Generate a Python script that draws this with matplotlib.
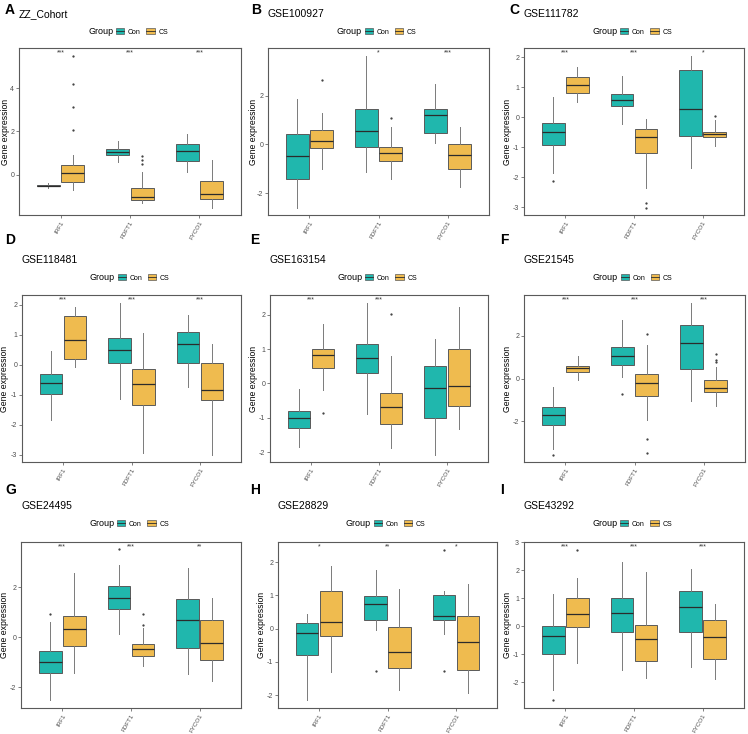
import matplotlib
matplotlib.use("Agg")
import matplotlib.pyplot as plt
from matplotlib.patches import Patch
from matplotlib.lines import Line2D
from matplotlib.legend_handler import HandlerTuple

plt.rcParams['font.family'] = ['Liberation Sans', 'DejaVu Sans']

genes = ["IRF1", "FDFT1", "FYCO1"]
groups = ["Con", "CS"]
con_color = "#20B7AD"
cs_color = "#EFBB4F"

# five number summaries per gene: (whisker low, q1, median, q3, whisker high)
zz_con = [(-0.62, -0.53, -0.51, -0.48, -0.38), (0.58, 0.92, 1.05, 1.18, 1.54), (0.12, 0.62, 1.08, 1.42, 1.88)]
zz_cs = [(-0.72, -0.31, 0.08, 0.45, 0.92), (-1.31, -1.15, -1.0, -0.62, 0.12), (-1.54, -1.12, -0.88, -0.28, 0.69)]
zz_out_con = [[], [], []]
zz_out_cs = [[5.46, 4.2, 3.15, 2.05], [0.88, 0.7, 0.52], []]
zz_sig = ["***", "***", "***"]

g100927_con = [(-2.61, -1.42, -0.48, 0.44, 1.86), (-1.14, -0.11, 0.55, 1.44, 3.64), (0.07, 0.45, 1.22, 1.44, 2.46)]
g100927_cs = [(-0.99, -0.14, 0.14, 0.59, 1.28), (-1.42, -0.69, -0.34, -0.1, 0.73), (-1.76, -1.0, -0.44, 0.03, 0.71)]
g100927_out_con = [[], [], []]
g100927_out_cs = [[2.64], [1.1], []]
g100927_sig = ["", "*", "***"]

g111782_con = [(-1.87, -0.94, -0.51, -0.2, 0.67), (-0.23, 0.36, 0.57, 0.78, 1.37), (-1.68, -0.63, 0.27, 1.57, 2.02)]
g111782_cs = [(0.5, 0.8, 1.06, 1.34, 1.67), (-2.37, -1.21, -0.66, -0.4, -0.06), (-0.96, -0.67, -0.56, -0.48, -0.1)]
g111782_out_con = [[-2.12], [], []]
g111782_out_cs = [[], [-2.87, -3.03], [0.03]]
g111782_sig = ["***", "***", "*"]

g118481_con = [(-1.83, -0.98, -0.61, -0.32, 0.46), (-1.13, 0.06, 0.48, 0.88, 2.06), (-0.74, 0.06, 0.7, 1.1, 1.65)]
g118481_cs = [(-0.08, 0.18, 0.81, 1.63, 1.94), (-2.94, -1.33, -0.66, -0.13, 1.06), (-3.0, -1.19, -0.86, 0.07, 0.7)]
g118481_out_con = [[], [], []]
g118481_out_cs = [[], [], []]
g118481_sig = ["***", "***", "***"]

g163154_con = [(-1.84, -1.28, -1.0, -0.79, -0.15), (-0.9, 0.31, 0.73, 1.15, 2.33), (-2.07, -1.0, -0.13, 0.5, 1.28)]
g163154_cs = [(-0.19, 0.44, 0.84, 1.01, 1.73), (-1.86, -1.17, -0.68, -0.28, 0.8), (-1.31, -0.66, -0.06, 1.01, 2.23)]
g163154_out_con = [[], [], []]
g163154_out_cs = [[-0.87], [2.01], []]
g163154_sig = ["***", "***", ""]

g21545_con = [(-3.27, -2.18, -1.68, -1.34, -0.39), (0.08, 0.62, 1.07, 1.49, 2.72), (-1.04, 0.44, 1.67, 2.47, 3.5)]
g21545_cs = [(-0.05, 0.31, 0.47, 0.59, 1.04), (-1.95, -0.81, -0.23, 0.19, 1.56), (-1.28, -0.62, -0.42, -0.09, 0.55)]
g21545_out_con = [[-3.55], [-0.73], []]
g21545_out_cs = [[], [2.07, -2.83, -3.46], [1.14, 0.86, 0.75]]
g21545_sig = ["***", "***", "***"]

g24495_con = [(-2.52, -1.44, -0.99, -0.56, 0.62), (0.15, 1.11, 1.55, 2.03, 2.89), (-1.46, -0.44, 0.68, 1.51, 2.75)]
g24495_cs = [(-1.44, -0.33, 0.32, 0.83, 2.58), (-1.14, -0.74, -0.48, -0.26, 0.36), (-1.73, -0.89, -0.24, 0.69, 1.58)]
g24495_out_con = [[0.93], [3.51], []]
g24495_out_cs = [[], [0.93, 0.49], []]
g24495_sig = ["***", "***", "**"]

g28829_con = [(-2.16, -0.8, -0.14, 0.18, 0.43), (-0.04, 0.26, 0.74, 0.98, 1.78), (-0.15, 0.26, 0.37, 1.0, 1.12)]
g28829_cs = [(-1.31, -0.21, 0.21, 1.12, 1.88), (-1.86, -1.2, -0.7, 0.06, 1.2), (-1.94, -1.25, -0.39, 0.38, 1.33)]
g28829_out_con = [[], [-1.27], [2.38, -1.27]]
g28829_out_cs = [[], [], []]
g28829_sig = ["*", "**", "*"]

g43292_con = [(-2.26, -0.99, -0.36, 0.0, 1.16), (-1.55, -0.19, 0.49, 1.03, 2.29), (-1.46, -0.21, 0.7, 1.27, 2.06)]
g43292_cs = [(-1.31, -0.02, 0.45, 1.0, 1.71), (-1.85, -1.22, -0.45, 0.04, 1.94), (-1.88, -1.18, -0.38, 0.24, 0.79)]
g43292_out_con = [[-2.64], [], []]
g43292_out_cs = [[2.74], [], []]
g43292_sig = ["***", "***", "***"]

panels = [
    ("A", "ZZ_Cohort", zz_con, zz_cs, zz_out_con, zz_out_cs, zz_sig, (-1.85, 5.85), [0, 2, 4]),
    ("B", "GSE100927", g100927_con, g100927_cs, g100927_out_con, g100927_out_cs, g100927_sig, (-2.89, 3.95), [-2, 0, 2]),
    ("C", "GSE111782", g111782_con, g111782_cs, g111782_out_con, g111782_out_cs, g111782_sig, (-3.26, 2.3), [-3, -2, -1, 0, 1, 2]),
    ("D", "GSE118481", g118481_con, g118481_cs, g118481_out_con, g118481_out_cs, g118481_sig, (-3.25, 2.33), [-3, -2, -1, 0, 1, 2]),
    ("E", "GSE163154", g163154_con, g163154_cs, g163154_out_con, g163154_out_cs, g163154_sig, (-2.28, 2.57), [-2, -1, 0, 1, 2]),
    ("F", "GSE21545", g21545_con, g21545_cs, g21545_out_con, g21545_out_cs, g21545_sig, (-3.89, 3.89), [-2, 0, 2]),
    ("G", "GSE24495", g24495_con, g24495_cs, g24495_out_con, g24495_out_cs, g24495_sig, (-2.82, 3.8), [-2, 0, 2]),
    ("H", "GSE28829", g28829_con, g28829_cs, g28829_out_con, g28829_out_cs, g28829_sig, (-2.39, 2.61), [-2, -1, 0, 1, 2]),
    ("I", "GSE43292", g43292_con, g43292_cs, g43292_out_con, g43292_out_cs, g43292_sig, (-2.91, 3.01), [-2, -1, 0, 1, 2, 3]),
]

# layout in pixels: axes (left, top, right, bottom), title y, legend y, letter (x, y), ylabel x
W, H = 748, 734
axes_px = [(19, 48, 241, 215), (268, 48, 489, 215), (524, 48, 744, 215),
           (22, 295, 241, 462), (270, 295, 488, 462), (524, 295, 745, 462),
           (21, 542, 241, 708), (278, 542, 497, 708), (524, 542, 744, 708)]
title_y = [14, 260, 506]
legend_y = [32, 278, 524]
letter_pos = [(5, 10), (251, 10), (509, 10), (5, 240), (250, 240), (500, 240),
              (5, 490), (250, 490), (500, 490)]
ylabel_x = [5, 253, 508, 5, 253, 508, 5, 261, 508]

fig = plt.figure(figsize=(W / 100, H / 100), dpi=100)


def fx(p):
    return p / W


def fy(p):
    return 1 - p / H


def make_stats(five, out):
    lo, q1, med, q3, hi = five
    return dict(whislo=lo, q1=q1, med=med, q3=q3, whishi=hi, fliers=out)


for i, (letter, title, con, cs, out_con, out_cs, sig, ylim, yticks) in enumerate(panels):
    l, t, r, b = axes_px[i]
    ax = fig.add_axes([fx(l), fy(b), fx(r - l), (b - t) / H])
    row = i // 3

    for g, (data, outs, color, off) in enumerate([(con, out_con, con_color, -0.175), (cs, out_cs, cs_color, 0.175)]):
        stats = [make_stats(data[k], outs[k]) for k in range(3)]
        pos = [k + 1 + off for k in range(3)]
        ax.bxp(stats, positions=pos, widths=0.33, patch_artist=True, showcaps=False,
               boxprops=dict(facecolor=color, edgecolor="#5a5a5a", linewidth=0.7),
               medianprops=dict(color="#2b2b2b", linewidth=0.9),
               whiskerprops=dict(color="#7a7a7a", linewidth=0.7),
               flierprops=dict(marker="o", markersize=0.6, markerfacecolor="#333333",
                               markeredgecolor="#333333", linestyle="none"))

    for k, s in enumerate(sig):
        if s:
            ax.text(k + 1, 0.972, s, transform=ax.get_xaxis_transform(), ha="center",
                    va="center", fontsize=5, color="#333333")

    ax.set_xlim(0.4, 3.6)
    ax.set_ylim(*ylim)
    ax.set_yticks(yticks)
    ax.set_yticklabels([str(v) for v in yticks])
    ax.set_xticks([1, 2, 3])
    ax.set_xticklabels(genes, rotation=60, ha="right", rotation_mode="anchor")
    ax.tick_params(axis="both", labelsize=5, labelcolor="#4d4d4d", color="#4d4d4d",
                   length=2, width=0.5, pad=1.5)
    ax.tick_params(axis="x", labelsize=4.5)
    for sp in ax.spines.values():
        sp.set_color("#5a5a5a")
        sp.set_linewidth(0.8)
    ax.set_ylabel("Gene expression", fontsize=6.2)
    ax.yaxis.label.set_verticalalignment("center")
    ax.yaxis.set_label_coords((ylabel_x[i] - l) / (r - l), 0.5)

    # title and panel letter
    fig.text(fx(l), fy(title_y[row]), title, fontsize=7.5, ha="left", va="center")
    fig.text(fx(letter_pos[i][0]), fy(letter_pos[i][1]), letter, fontsize=10,
             fontweight="bold", ha="left", va="center")

    # legend
    cx = (l + r) / 2
    fig.text(fx(cx - 29), fy(legend_y[row]), "Group", fontsize=6.5, ha="center", va="center")
    handles = [(Patch(facecolor=con_color, edgecolor="#5a5a5a", linewidth=0.5),
                Line2D([], [], color="#2b2b2b", linewidth=0.6)),
               (Patch(facecolor=cs_color, edgecolor="#5a5a5a", linewidth=0.5),
                Line2D([], [], color="#2b2b2b", linewidth=0.6))]
    fig.legend(handles, groups, loc="center", bbox_to_anchor=(fx(cx + 12), fy(legend_y[row])),
               ncol=2, frameon=False, fontsize=5, handlelength=1.2, handleheight=1.0,
               handletextpad=0.5, columnspacing=0.8, borderpad=0,
               handler_map={tuple: HandlerTuple(ndivide=1, pad=0)})

fig.savefig("out.png", dpi=100)
